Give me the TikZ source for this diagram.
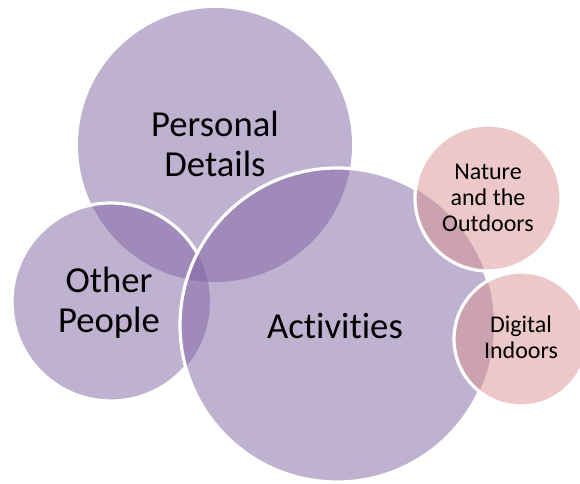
\documentclass[tikz,border=0pt]{standalone}
\usepackage{fontspec}
\setmainfont{Carlito}[Ligatures=NoCommon]
\definecolor{lilac}{HTML}{8064A2}
\definecolor{rose}{HTML}{D99191}
\begin{document}
\begin{tikzpicture}[x=0.75pt,y=-0.75pt,
    bubble/.style={fill=lilac,fill opacity=0.5},
    pinkbubble/.style={fill=rose,fill opacity=0.5},
    rim/.style={draw=white,line width=2.4pt},
    bigtext/.style={align=center,font=\fontsize{27.5}{30}\selectfont},
    smalltext/.style={align=center,font=\fontsize{18}{19.5}\selectfont}]
    \useasboundingbox (0,0) rectangle (580,483);
    \fill[bubble] (215,145) circle (137);
    \fill[bubble] (111,302) circle (99);
    \begin{scope}[even odd rule]
        \clip (-10,-10) rectangle (600,500) (337,325) circle (157);
        \draw[rim] (111,302) circle (99);
    \end{scope}
    \fill[bubble] (337,325) circle (157);
    \begin{scope}[even odd rule]
        \clip (-10,-10) rectangle (600,500) (488,198) circle (73) (521,339) circle (67);
        \draw[rim] (337,325) circle (157);
    \end{scope}
    \fill[pinkbubble] (488,198) circle (73);
    \draw[rim] (488,198) circle (73);
    \fill[pinkbubble] (521,339) circle (67);
    \draw[rim] (521,339) circle (67);
    \node[bigtext] (details) at (215,144) {Personal\\Details};
    \node[bigtext] (people) at (109,303) {Other\\People};
    \node[bigtext] (activities) at (335,326) {Activities};
    \node[smalltext] (nature) at (488,198) {Nature\\and the\\Outdoors};
    \node[smalltext] (digital) at (521,337) {Digital\\Indoors};
\end{tikzpicture}
\end{document}
